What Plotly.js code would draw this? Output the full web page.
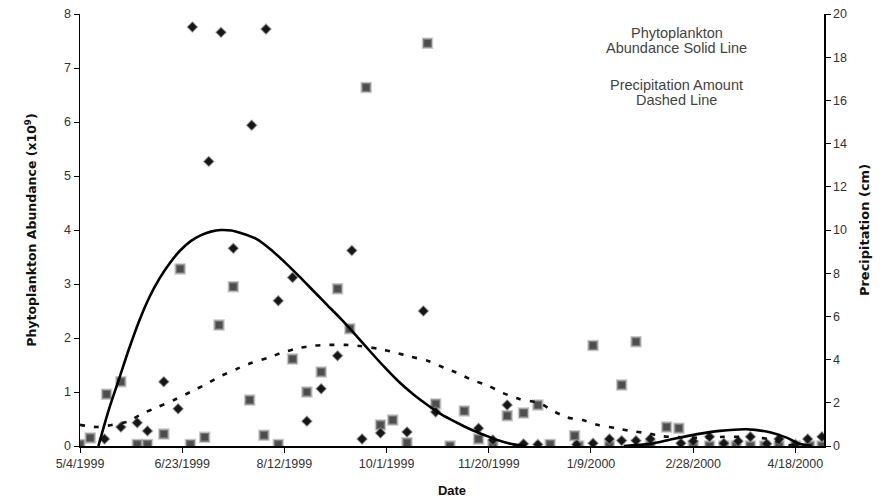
<!DOCTYPE html>
<html>
<head>
<meta charset="utf-8">
<script src="https://cdn.plot.ly/plotly-3.0.1.min.js"></script>
<style>html,body{margin:0;padding:0;background:#fff;}#chart{width:886px;height:500px;}</style>
</head>
<body>
<div id="chart"></div>
<script>
// Square samples (left axis, x10^9)
const squareDates = ['1999-05-04','1999-05-09','1999-05-17','1999-05-24','1999-06-01','1999-06-06','1999-06-14','1999-06-22','1999-06-27','1999-07-04','1999-07-11','1999-07-18','1999-07-26','1999-08-02','1999-08-09','1999-08-16','1999-08-23','1999-08-30','1999-09-07','1999-09-13','1999-09-21','1999-09-28','1999-10-04','1999-10-11','1999-10-21','1999-10-25','1999-11-01','1999-11-08','1999-11-15','1999-11-22','1999-11-29','1999-12-07','1999-12-14','1999-12-20','2000-01-01','2000-01-03','2000-01-10','2000-01-18','2000-01-24','2000-01-31','2000-02-07','2000-02-15','2000-02-21','2000-02-28','2000-03-07','2000-03-14','2000-03-20','2000-03-27','2000-04-03','2000-04-10','2000-04-18','2000-04-25','2000-05-01'];
const squareValues = [0.03,0.15,0.96,1.19,0.03,0.03,0.22,3.28,0.03,0.16,2.24,2.95,0.85,0.2,0.03,1.61,1.0,1.37,2.91,2.17,6.64,0.39,0.48,0.06,7.46,0.78,0.0,0.65,0.13,0.0,0.56,0.61,0.76,0.03,0.19,0.0,1.86,0.0,1.13,1.93,0.0,0.35,0.33,0.0,0.0,0.0,0.0,0.0,0.0,0.0,0.0,0.0,0.0];

// Diamond samples (left axis, x10^9)
const diamondDates = ['1999-05-16','1999-05-24','1999-06-01','1999-06-06','1999-06-14','1999-06-21','1999-06-28','1999-07-06','1999-07-12','1999-07-18','1999-07-27','1999-08-03','1999-08-09','1999-08-16','1999-08-23','1999-08-30','1999-09-07','1999-09-14','1999-09-19','1999-09-28','1999-10-11','1999-10-19','1999-10-25','1999-11-15','1999-11-22','1999-11-29','1999-12-07','1999-12-14','2000-01-02','2000-01-10','2000-01-18','2000-01-24','2000-01-31','2000-02-07','2000-02-22','2000-02-28','2000-03-07','2000-03-14','2000-03-21','2000-03-27','2000-04-04','2000-04-10','2000-04-18','2000-04-24','2000-05-01'];
const diamondValues = [0.13,0.35,0.43,0.28,1.19,0.69,7.76,5.27,7.66,3.66,5.94,7.72,2.69,3.12,0.46,1.06,1.67,3.62,0.13,0.24,0.26,2.5,0.63,0.33,0.11,0.76,0.04,0.03,0.03,0.05,0.13,0.1,0.1,0.13,0.05,0.09,0.17,0.05,0.09,0.17,0.04,0.13,0.03,0.13,0.17];

// Phytoplankton abundance fit (solid line, left axis)
const phytoDates = ['1999-05-13','1999-05-18','1999-05-23','1999-05-28','1999-06-02','1999-06-07','1999-06-12','1999-06-17','1999-06-22','1999-06-27','1999-07-02','1999-07-07','1999-07-12','1999-07-17','1999-07-22','1999-07-29','1999-08-05','1999-08-12','1999-08-19','1999-08-26','1999-09-02','1999-09-09','1999-09-16','1999-09-23','1999-09-30','1999-10-07','1999-10-14','1999-10-21','1999-10-28','1999-11-04','1999-11-11','1999-11-18','1999-11-25','1999-12-02','1999-12-08',null,'2000-01-25','2000-02-07','2000-02-18','2000-03-01','2000-03-12','2000-03-25','2000-04-06','2000-04-14','2000-04-20','2000-04-26'];
const phytoValues = [0,0.66,1.23,1.80,2.32,2.76,3.11,3.39,3.62,3.79,3.90,3.97,4.00,3.99,3.94,3.84,3.65,3.41,3.15,2.88,2.61,2.34,2.05,1.75,1.46,1.19,0.96,0.76,0.58,0.44,0.31,0.20,0.10,0.03,0,null,0,0.04,0.13,0.22,0.28,0.31,0.25,0.15,0.04,0];

// Precipitation fit (dashed line, right axis, cm)
const precipDates = ['1999-05-04','1999-05-12','1999-05-20','1999-05-28','1999-06-03','1999-06-11','1999-06-19','1999-06-27','1999-07-05','1999-07-11','1999-07-20','1999-07-27','1999-08-04','1999-08-11','1999-08-20','1999-08-27','1999-09-03','1999-09-11','1999-09-18','1999-09-27','1999-10-05','1999-10-13','1999-10-21','1999-10-29','1999-11-04','1999-11-12','1999-11-20','1999-11-27','1999-12-05','1999-12-15','1999-12-21','1999-12-28','2000-01-05','2000-01-12','2000-01-21','2000-01-28','2000-02-05','2000-02-13','2000-03-06','2000-03-14','2000-03-22','2000-03-28','2000-04-07','2000-04-14','2000-04-20'];
const precipValues = [0.98,0.88,0.98,1.15,1.48,1.8,2.13,2.5,2.88,3.2,3.58,3.85,4.08,4.33,4.55,4.65,4.68,4.68,4.63,4.5,4.33,4.13,3.95,3.63,3.4,3.05,2.78,2.45,2.18,1.98,1.65,1.33,1.2,0.98,0.83,0.7,0.6,0.45,0.38,0.43,0.43,0.43,0.28,0.05,0];

const xTickVals = ['1999-05-04','1999-06-23','1999-08-12','1999-10-01','1999-11-20','2000-01-09','2000-02-28','2000-04-18'];
const xTickText = ['5/4/1999','6/23/1999','8/12/1999','10/1/1999','11/20/1999','1/9/2000','2/28/2000','4/18/2000'];

const noteLines = ['Phytoplankton', 'Abundance Solid Line', 'Precipitation Amount', 'Dashed Line'];

const FONT = 'Liberation Sans, Arial, sans-serif';
const BOLDFONT = 'DejaVu Sans, Verdana, sans-serif';

const traces = [
  {x: precipDates, y: precipValues, yaxis: 'y2', type: 'scatter', mode: 'lines', name: 'Precipitation Amount',
   line: {color: '#111', width: 2.6, dash: '5px,9px', shape: 'spline', smoothing: 0.6}, hoverinfo: 'skip'},
  {x: squareDates, y: squareValues, type: 'scatter', mode: 'markers', name: 'Squares',
   marker: {symbol: 'square', size: 9, color: '#4d4d4d', line: {color: 'rgba(160,160,160,0.55)', width: 2.5}}},
  {x: diamondDates, y: diamondValues, type: 'scatter', mode: 'markers', name: 'Diamonds',
   marker: {symbol: 'diamond', size: 8, color: '#151515', line: {color: 'rgba(160,160,160,0.45)', width: 1.5}}},
  {x: phytoDates, y: phytoValues, type: 'scatter', mode: 'lines', name: 'Phytoplankton Abundance',
   line: {color: '#000', width: 2.6, shape: 'spline', smoothing: 0.8}, connectgaps: false, hoverinfo: 'skip'}
];

const noteY = [0.957, 0.921, 0.835, 0.801];
const annotations = noteLines.map((t, i) => ({
  xref: 'paper', yref: 'paper', x: 0.802, y: noteY[i], xanchor: 'center', yanchor: 'middle',
  showarrow: false, text: t, font: {family: FONT, size: 14.5, color: '#444'}
}));

const layout = {
  width: 886, height: 500,
  margin: {l: 80, r: 62, t: 14, b: 54, pad: 0},
  paper_bgcolor: '#fff', plot_bgcolor: '#fff',
  showlegend: false,
  font: {family: FONT, color: '#222', size: 12},
  xaxis: {
    type: 'date', range: ['1999-05-04', '2000-05-02'],
    tickmode: 'array', tickvals: xTickVals, ticktext: xTickText,
    showgrid: false, zeroline: false, showline: true, linecolor: '#000', linewidth: 1.5,
    ticks: 'outside', ticklen: 5, tickcolor: '#000',
    tickfont: {family: FONT, size: 12.5, color: '#333'},
    title: {text: 'Date', font: {family: FONT, size: 13, color: '#111', weight: 'bold'}, standoff: 16},
    automargin: false
  },
  yaxis: {
    range: [0, 8], tickmode: 'linear', tick0: 0, dtick: 1,
    showgrid: false, zeroline: false, showline: true, linecolor: '#000', linewidth: 1.5,
    ticks: 'outside', ticklen: 5, tickcolor: '#000',
    tickfont: {family: FONT, size: 12.5, color: '#333'},
    title: {text: 'Phytoplankton Abundance (x10<sup>9</sup>)', font: {family: BOLDFONT, size: 12.5, color: '#111', weight: 'bold'}, standoff: 24},
    automargin: false
  },
  yaxis2: {
    range: [0, 20], tickmode: 'linear', tick0: 0, dtick: 2,
    overlaying: 'y', side: 'right',
    showgrid: false, zeroline: false, showline: true, linecolor: '#000', linewidth: 1.5,
    ticks: 'outside', ticklen: 5, tickcolor: '#000',
    tickfont: {family: FONT, size: 12.5, color: '#333'},
    title: {text: 'Precipitation (cm)', font: {family: BOLDFONT, size: 13, color: '#111', weight: 'bold'}, standoff: 14},
    automargin: false
  },
  annotations: annotations
};

Plotly.newPlot('chart', traces, layout, {displayModeBar: false, staticPlot: true});
</script>
</body>
</html>
